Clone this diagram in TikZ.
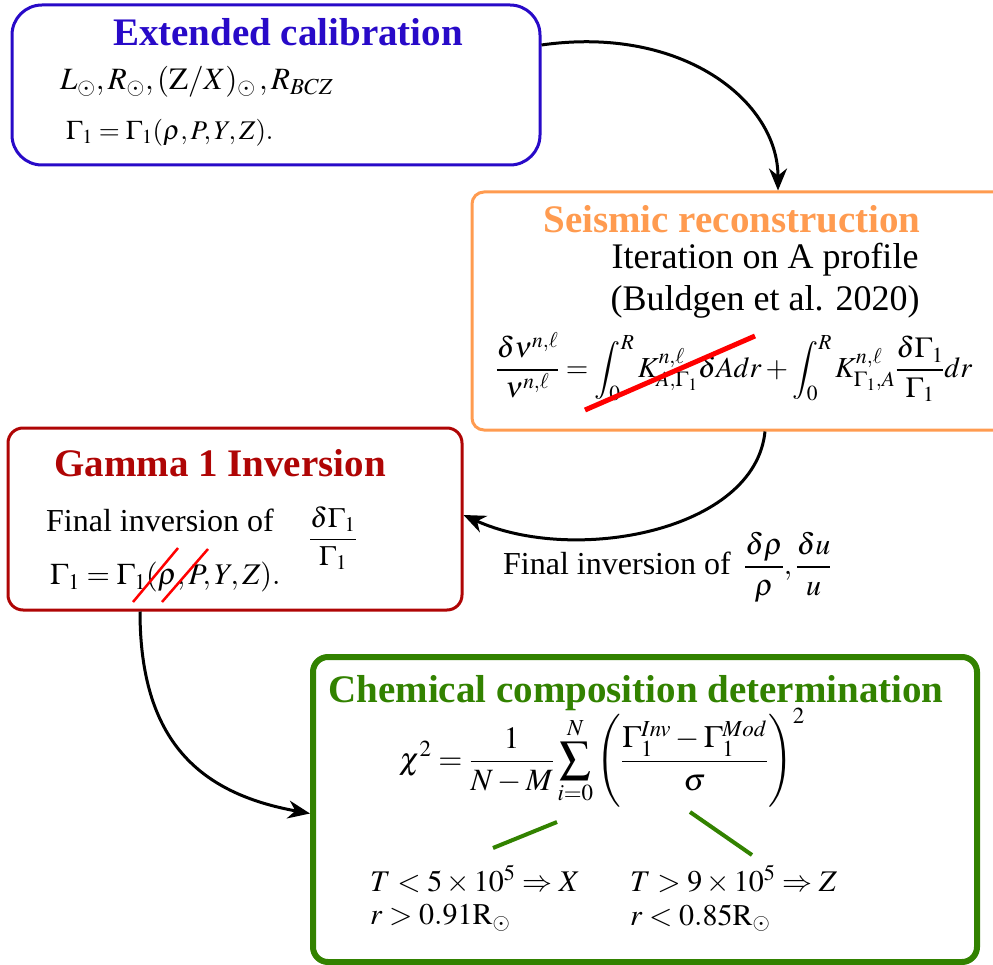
\documentclass[tikz,border=0pt]{standalone}
\usepackage{mathptmx}
\usepackage[no-math]{fontspec}
\setmainfont{Liberation Serif}
\usetikzlibrary{arrows.meta}

\definecolor{calblue}{RGB}{40,10,200}
\definecolor{seisorange}{RGB}{255,155,80}
\definecolor{invred}{RGB}{175,5,5}
\definecolor{chemgreen}{RGB}{50,130,0}

\tikzset{
  stage/.style={draw, rounded corners=15pt, line width=3pt, inner sep=0pt},
  stagetitle/.style={font=\fontsize{39}{46}\selectfont\bfseries, inner sep=0pt},
  bodytext/.style={font=\fontsize{32}{38}\selectfont, inner sep=0pt},
  mathline/.style={font=\fontsize{30}{36}\selectfont, inner sep=0pt},
  smallmath/.style={font=\fontsize{28}{33}\selectfont, inner sep=0pt},
  flow/.style={->, line width=3pt},
  strike/.style={red, line width=2.5pt}
}

\begin{document}
\begin{tikzpicture}[x=1pt, y=-1pt, >={Stealth[length=22pt, width=18pt]}]
  \useasboundingbox (0,0) rectangle (993,965);
  \clip (0,0) rectangle (993,965);

  % stage boxes
  \node[stage, draw=calblue, rounded corners=30pt, minimum width=528pt, minimum height=160pt] (cal) at (276,85) {};
  \node[stage, draw=seisorange, rounded corners=12pt, minimum width=538pt, minimum height=238pt] (seis) at (741,311) {};
  \node[stage, draw=invred, minimum width=454pt, minimum height=182pt] (inv) at (235,519) {};
  \node[stage, draw=chemgreen, line width=6pt, minimum width=664pt, minimum height=305pt] (chem) at (645,809.5) {};

  % extended calibration
  \node[stagetitle, text=calblue] (caltitle) at (288,32) {Extended calibration};
  \node[mathline, font=\fontsize{31}{37}\selectfont, anchor=west] (calvars) at (60,82) {$L_\odot, R_\odot, (\mathrm{Z}/X)_\odot\,, R_{BCZ}$};
  \node[smallmath, font=\fontsize{27}{32}\selectfont, anchor=west] (calgamma) at (66,133) {$\Gamma_1 = \Gamma_1(\rho, P, Y, Z).$};

  % seismic reconstruction
  \node[stagetitle, text=seisorange] (seistitle) at (732,219) {Seismic reconstruction};
  \node[bodytext, font=\fontsize{36}{42}\selectfont] (iter) at (765,260) {Iteration on A profile};
  \node[bodytext, font=\fontsize{36}{42}\selectfont] (buldgen) at (765,302) {(Buldgen et al. 2020)};
  \node[smallmath, font=\fontsize{29}{34}\selectfont] (seiseq) at (734,367)
    {$\displaystyle \frac{\delta\nu^{n,\ell}}{\nu^{n,\ell}} = \int_0^R K^{n,\ell}_{A,\Gamma_1}\delta A dr + \int_0^R K^{n,\ell}_{\Gamma_1,A}\frac{\delta\Gamma_1}{\Gamma_1}dr$};
  \draw[strike, line width=5pt] (585,410) -- (755,336);

  % gamma 1 inversion
  \node[stagetitle, text=invred] (invtitle) at (220,463) {Gamma 1 Inversion};
  \node[bodytext, anchor=west] (invtext) at (46,520) {Final inversion of};
  \node[smallmath] (invfrac) at (333,538) {$\displaystyle\frac{\delta\Gamma_1}{\Gamma_1}$};
  \node[smallmath, font=\fontsize{30}{36}\selectfont, anchor=west] (invgamma) at (50,577) {$\Gamma_1 = \Gamma_1(\rho, P, Y, Z).$};
  \draw[strike] (133,602) -- (178,548);
  \draw[strike] (162,602) -- (208,549);

  % label between seismic and inversion
  \node[bodytext, anchor=west] (rholabel) at (503,567)
    {Final inversion of \,{\fontsize{30}{36}\selectfont$\displaystyle\frac{\delta\rho}{\rho}, \frac{\delta u}{u}$}};

  % chemical composition
  \node[stagetitle, text=chemgreen] (chemtitle) at (636,693) {Chemical composition determination};
  \node[mathline, font=\fontsize{31}{37}\selectfont] (chieq) at (602,758)
    {$\displaystyle \chi^2 = \frac{1}{N-M}\sum_{i=0}^{N}\left(\frac{\Gamma_1^{Inv}-\Gamma_1^{Mod}}{\sigma}\right)^2$};
  \draw[chemgreen, line width=4pt] (493,848) -- (557,822);
  \draw[chemgreen, line width=4pt] (690,812) -- (752,855);
  \node[mathline, anchor=west] (outerT) at (370,880) {$T < 5\times 10^5 \Rightarrow X$};
  \node[mathline, anchor=west] (outerr) at (370,918) {$r > 0.91\mathrm{R}_\odot$};
  \node[mathline, anchor=west] (innerT) at (630,880) {$T > 9\times 10^5 \Rightarrow Z$};
  \node[mathline, anchor=west] (innerr) at (630,918) {$r < 0.85\mathrm{R}_\odot$};

  % flow between stages
  \draw[flow] ([yshift=40pt]cal.east) .. controls +(140,-20) and +(0,-90) .. ([xshift=37pt]seis.north);
  \draw[flow] ([xshift=24pt]seis.south) .. controls +(-10,100) and +(110,50) .. ([yshift=4pt]inv.east);
  \draw[flow] ([xshift=-95pt]inv.south) .. controls +(0,130) and +(-110,-20) .. ([yshift=-4pt]chem.west);
\end{tikzpicture}
\end{document}
